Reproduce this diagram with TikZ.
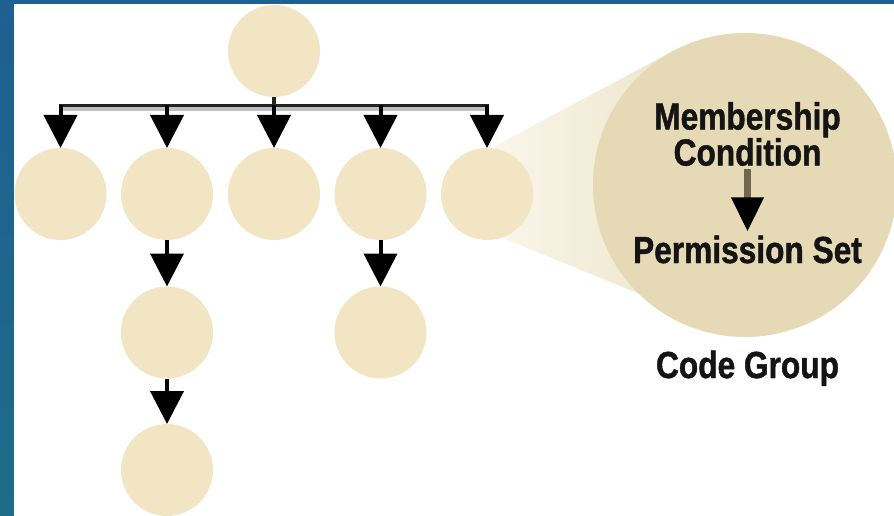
\documentclass[tikz,border=0pt]{standalone}
\usepackage{fontspec}
\newfontfamily\labfont{Liberation Sans}[FakeStretch=0.84, BoldFeatures={FakeBold=1.2}]
\usetikzlibrary{arrows.meta,calc}
\definecolor{frameA}{RGB}{30,96,146}
\definecolor{frameB}{RGB}{36,122,170}
\definecolor{frameC}{RGB}{30,108,135}
\definecolor{groupfill}{RGB}{242,229,195}
\definecolor{zoomfill}{RGB}{229,217,182}
\definecolor{conelight}{RGB}{251,248,238}
\definecolor{conedark}{RGB}{233,223,192}
\definecolor{barshadow}{RGB}{192,192,192}
\definecolor{bardark}{RGB}{35,35,35}
\definecolor{innershaft}{RGB}{112,102,82}
\begin{document}
\begin{tikzpicture}[x=1pt,y=-1pt,
  group/.style={circle, fill=groupfill, minimum size=92pt, inner sep=0pt, outer sep=0pt},
  barline/.style={draw=bardark, line width=3.5pt},
  shadowline/.style={draw=barshadow, line width=4pt},
  link/.style={draw=black, line width=4pt, -{Triangle[length=33pt,width=33pt]}},
  lbl/.style={font=\labfont\bfseries\fontsize{37.7}{36}\selectfont, text=black!92, inner sep=0pt, align=center}
]
% frame and canvas
\useasboundingbox (0,0) rectangle (894,516);
\fill[top color=frameA, middle color=frameB, bottom color=frameC] (0,0) rectangle (894,516);
\fill[white] (14,4) rectangle (894,516);

% magnifying cone behind the enlarged group
\shade[left color=conelight, right color=conedark]
  (470,159.4) -- (680,47.3) -- (745,185) -- (700,318.6) -- (470,224.6) -- cycle;
\node[circle, fill=zoomfill, minimum size=304pt, inner sep=0pt, outer sep=0pt] (zoom) at (745,185) {};

% code group tree
\node[group] (root) at (274,51) {};
\node[group] (g1) at (60.5,194) {};
\node[group] (g2) at (167,194) {};
\node[group] (g3) at (274,194) {};
\node[group] (g4) at (380.5,194) {};
\node[group] (g5) at (487,194) {};
\node[group] (g21) at (167,332.5) {};
\node[group] (g22) at (167,470) {};
\node[group] (g41) at (380.5,332.5) {};

\coordinate (fork) at (274,105.5);
\draw[shadowline] ($(fork -| g1)+(2,4)$) -- ($(fork -| g5)+(-2,4)$);
\draw[barline] (root) -- (fork);
\draw[barline, line cap=rect] (fork -| g1) -- (fork -| g5);
\foreach \g in {g1,g2,g3,g4,g5}
  \draw[link] (fork -| \g) -- (\g);
\draw[link] (g2) -- (g21);
\draw[link] (g21) -- (g22);
\draw[link] (g4) -- (g41);

% contents of the enlarged group
\node[lbl, anchor=north] (cond) at (747.5,102) {Membership\\Condition};
\node[lbl, anchor=base] (perm) at (747.5,263) {Permission Set};
\node[lbl, anchor=base] (cg) at (747.5,378) {Code Group};
\draw[draw=innershaft, line width=7pt, shorten <=3pt, shorten >=4pt,
  -{Triangle[length=34pt,width=31pt,color=black]}] (cond) -- (perm);
\end{tikzpicture}
\end{document}
